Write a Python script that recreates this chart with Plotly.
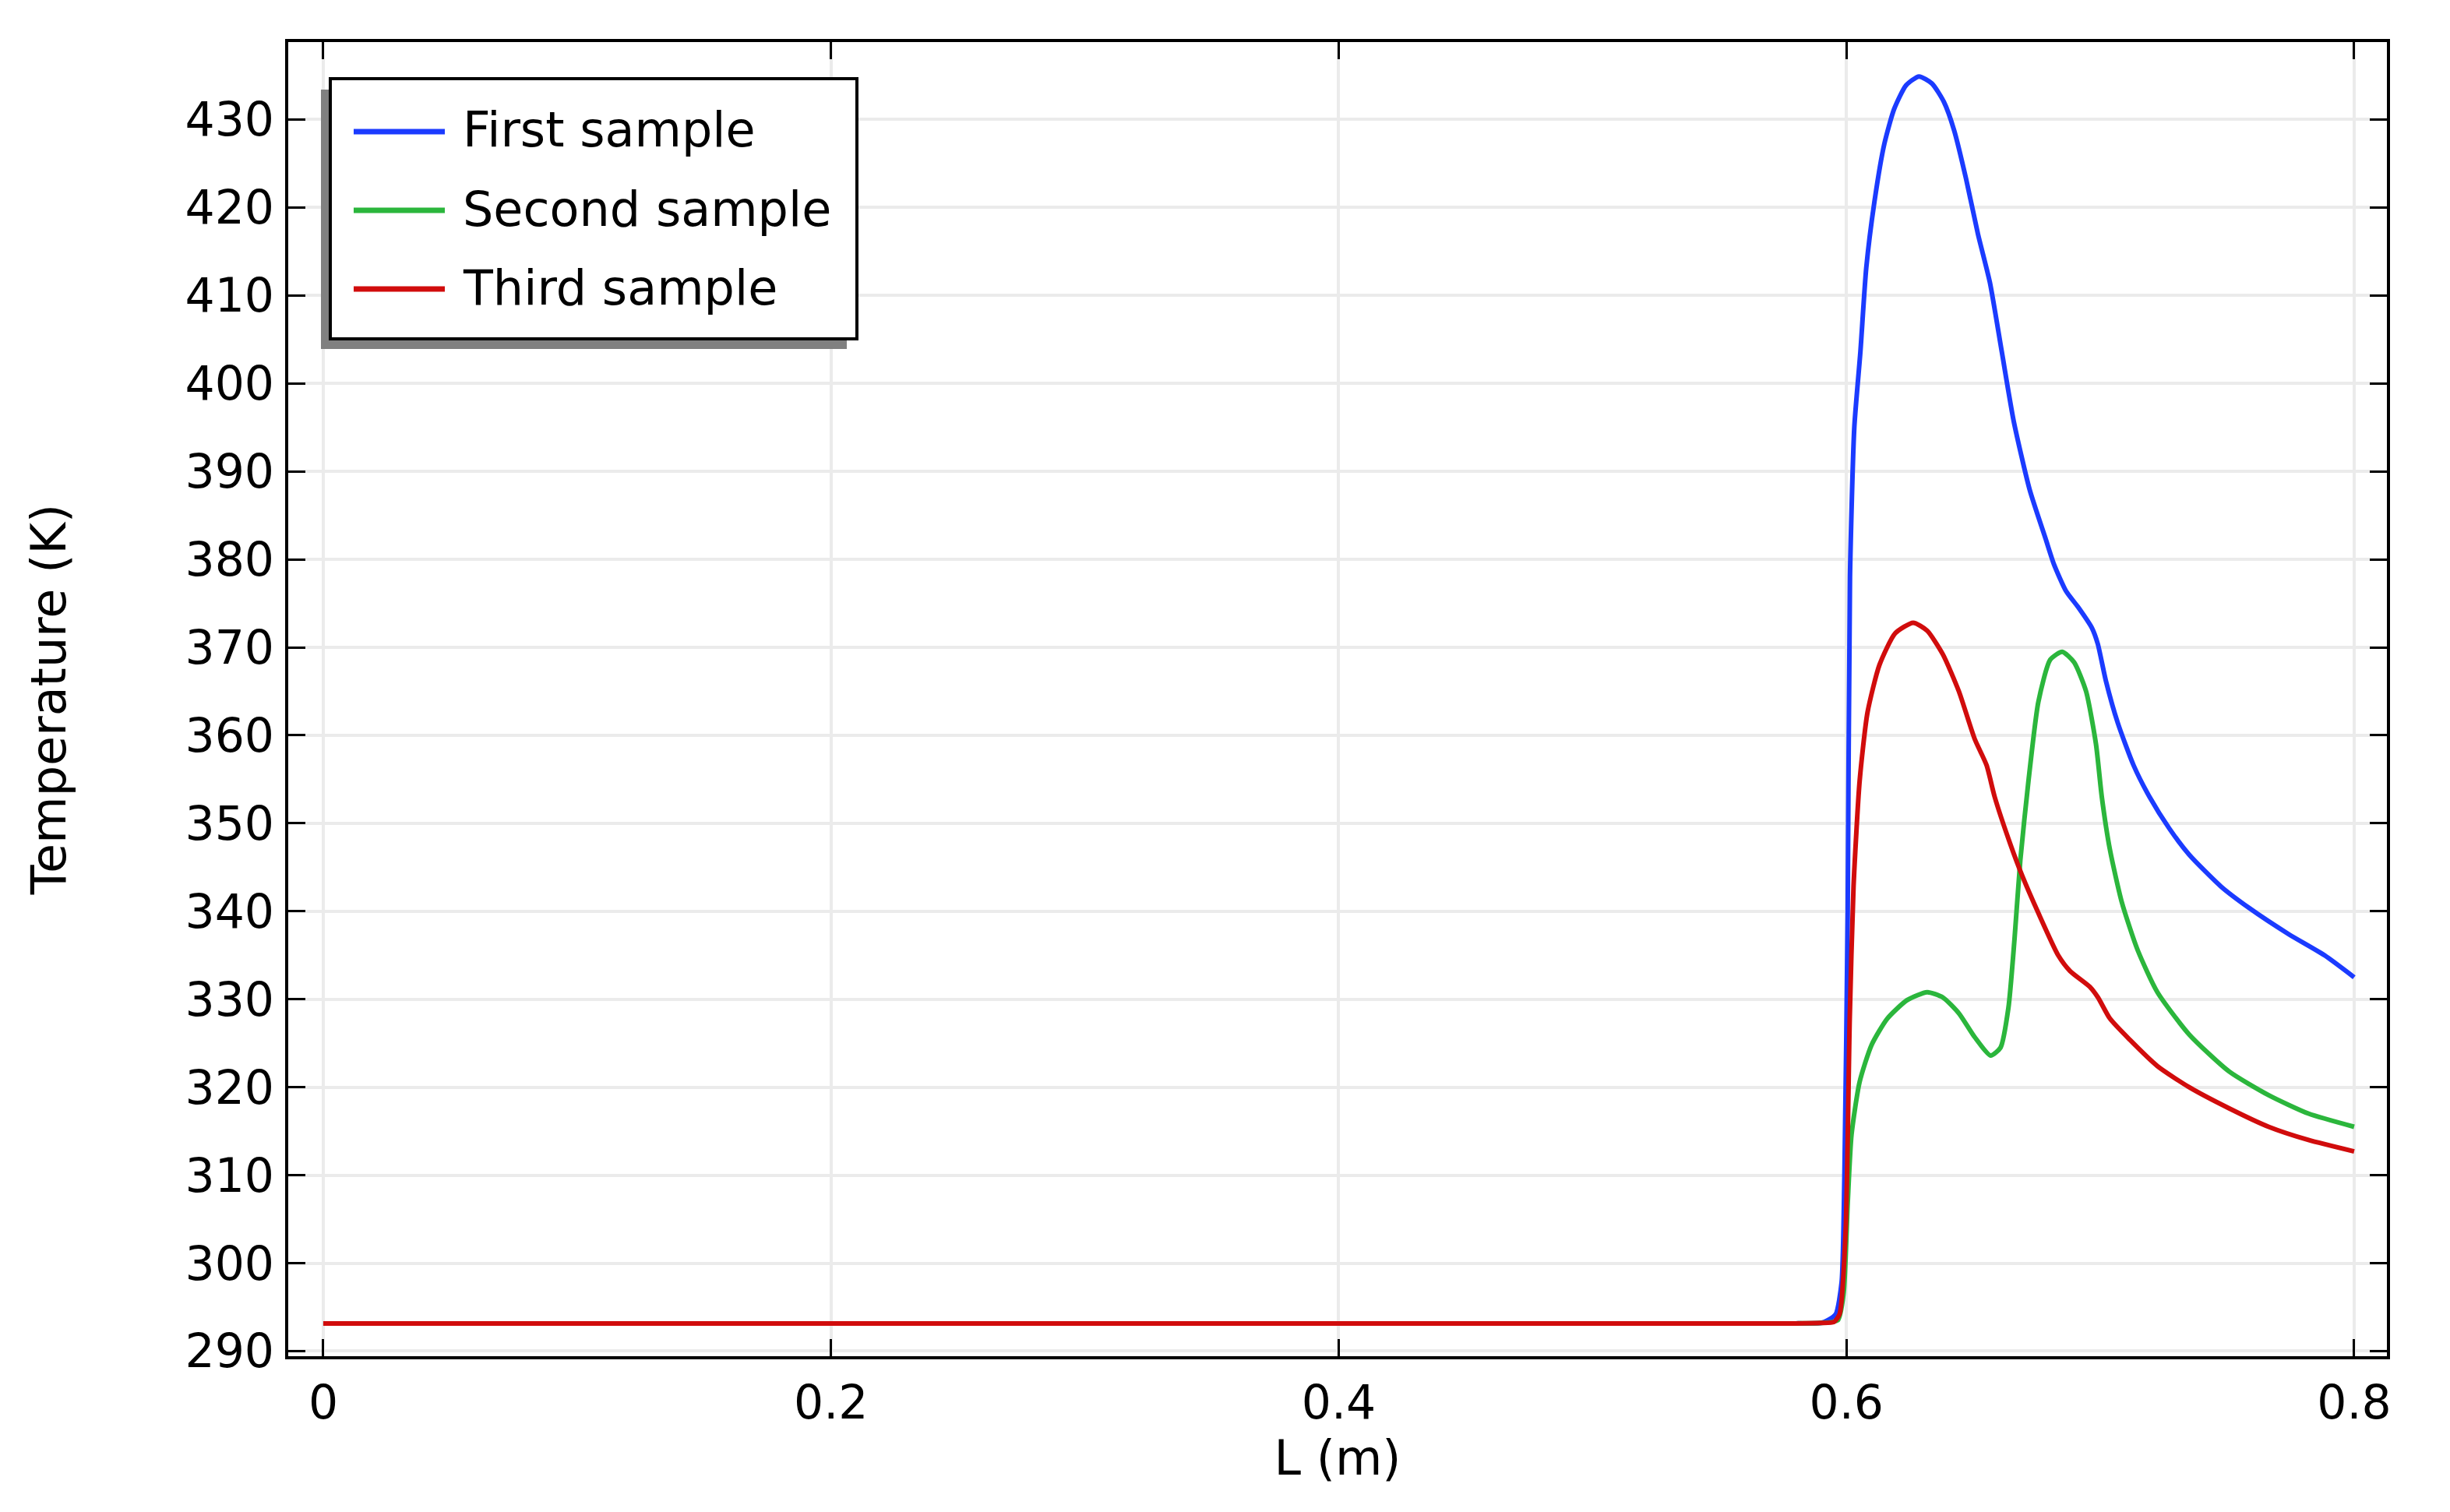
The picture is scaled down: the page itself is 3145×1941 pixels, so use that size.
import plotly.graph_objects as go

# ---- data (L in m, temperature in K) ----
x_first = [0, 0.1, 0.2, 0.3, 0.4, 0.5, 0.58, 0.59, 0.5926, 0.5958, 0.5981, 0.5992, 0.6005,
           0.6014, 0.6031, 0.6055, 0.6078, 0.611, 0.6149, 0.6188, 0.6235, 0.6286,
           0.6337, 0.6384, 0.6424, 0.6471, 0.6518, 0.6565, 0.6612, 0.6659, 0.6722,
           0.6784, 0.6818, 0.6865, 0.6912, 0.6967, 0.699, 0.7022, 0.7069, 0.7131,
           0.7194, 0.7272, 0.7351, 0.7476, 0.7585, 0.7742, 0.7883, 0.8]
t_first = [293.15, 293.15, 293.15, 293.15, 293.15, 293.15, 293.15, 293.2, 293.5, 294.2, 297.8,
           309.8, 339.8, 378, 395, 403.6, 413.1, 420.6, 427.2, 431.2, 433.9, 434.9,
           434.1, 432, 428.8, 423.3, 417, 411.5, 403.6, 395.7, 387.9,
           382.4, 379.4, 376.4, 374.6, 372.2, 370.4, 366.2, 361.4, 356.6,
           353, 349.4, 346.4, 342.8, 340.4, 337.4, 335, 332.5]

x_second = [0, 0.1, 0.2, 0.3, 0.4, 0.5, 0.58, 0.59, 0.5966, 0.5989, 0.6005, 0.602, 0.6052,
            0.6099, 0.6161, 0.6239, 0.6318, 0.638, 0.6443, 0.6505, 0.6568, 0.6607,
            0.6638, 0.6662, 0.6685, 0.6717, 0.6756, 0.6803, 0.685, 0.6897, 0.6944,
            0.6983, 0.7006, 0.7038, 0.7085, 0.7147, 0.7225, 0.735, 0.7507, 0.7663,
            0.782, 0.8]
t_second = [293.15, 293.15, 293.15, 293.15, 293.15, 293.15, 293.15, 293.2, 293.5, 296.6, 306.8,
            314.6, 320.6, 324.8, 327.8, 329.9, 330.8, 330.2, 328.4, 325.7, 323.6, 324.5,
            329, 336.8, 345.8, 354.8, 363.8, 368.6, 369.5, 368.3, 365,
            359, 353, 347, 341, 335.6, 330.8, 326, 321.8, 319.1,
            317, 315.5]

x_third = [0, 0.1, 0.2, 0.3, 0.4, 0.5, 0.58, 0.59, 0.595, 0.5973, 0.5997, 0.6013, 0.6028,
           0.6052, 0.6083, 0.613, 0.6192, 0.6263, 0.6318, 0.638, 0.6443, 0.6505,
           0.6552, 0.6584, 0.6646, 0.6693, 0.6756, 0.6834, 0.6881, 0.6959, 0.6991,
           0.7038, 0.7116, 0.7225, 0.735, 0.7507, 0.7663, 0.782, 0.8]
t_third = [293.15, 293.15, 293.15, 293.15, 293.15, 293.15, 293.15, 293.2, 293.3, 294.2, 303.8,
           327.8, 342.8, 354.8, 362.6, 368, 371.6, 372.8, 371.9, 369.2, 365, 359.6,
           356.6, 353, 347.6, 344, 339.8, 335, 333.2, 331.4, 330.2,
           327.8, 325.4, 322.4, 320, 317.6, 315.5, 314, 312.7]

names = ["First sample", "Second sample", "Third sample"]
colors = ["#1b3bff", "#2bb63c", "#d10c0c"]
x_ticks = [0, 0.2, 0.4, 0.6, 0.8]
x_labels = ["0", "0.2", "0.4", "0.6", "0.8"]
y_ticks = list(range(290, 431, 10))

# ---- page geometry (pixels); the page body adds an 8 px offset ----
OFF = 8
W, H = 3145 - OFF, 1941 - OFF
ML, MR, MT, MB = 362, 81, 46, 200
FONT = "DejaVu Sans"


def px_x(p):
    return (p - OFF - ML) / (W - ML - MR)


def px_y(p):
    return (H - MB - (p - OFF)) / (H - MT - MB)


fig = go.Figure()
for xs, ts, name, col in zip([x_first, x_second, x_third],
                             [t_first, t_second, t_third], names, colors):
    fig.add_trace(go.Scatter(x=xs, y=ts, mode="lines", name=name,
                             line=dict(color=col, width=6, shape="spline", smoothing=0.6),
                             showlegend=False))

axis_common = dict(
    showline=True, linecolor="black", linewidth=4, mirror="ticks",
    ticks="inside", ticklen=22, tickwidth=3, tickcolor="black",
    showgrid=True, gridcolor="#ebebeb", gridwidth=4, zeroline=False,
    tickfont=dict(family=FONT, size=60, color="black"),
)

fig.update_layout(
    width=W, height=H,
    margin=dict(l=ML, r=MR, t=MT, b=MB),
    paper_bgcolor="white", plot_bgcolor="white",
    font=dict(family=FONT, color="black"),
    xaxis=dict(axis_common, range=[-0.0138, 0.8129], tickvals=x_ticks, ticktext=x_labels,
               ticklabelstandoff=4,
               title=dict(text="L (m)", font=dict(family=FONT, size=62), standoff=8)),
    yaxis=dict(axis_common, range=[289.42, 438.81], tickvals=y_ticks,
               ticklabelstandoff=2,
               title=dict(text="Temperature (K)", font=dict(family=FONT, size=62), standoff=134)),
)

# legend drawn by hand: shadow, framed box, sample lines and labels
shapes = [
    dict(type="rect", xref="paper", yref="paper", layer="above",
         x0=px_x(412), x1=px_x(1087), y0=px_y(448), y1=px_y(115),
         fillcolor="#808080", line=dict(width=0)),
    dict(type="rect", xref="paper", yref="paper", layer="above",
         x0=px_x(424), x1=px_x(1100), y0=px_y(435), y1=px_y(101),
         fillcolor="white", line=dict(color="black", width=4)),
]
annotations = []
for i, (name, col) in enumerate(zip(names, colors)):
    yy = 169 + 101 * i
    shapes.append(dict(type="line", xref="paper", yref="paper", layer="above",
                       x0=px_x(454), x1=px_x(571), y0=px_y(yy), y1=px_y(yy),
                       line=dict(color=col, width=7)))
    annotations.append(dict(xref="paper", yref="paper", x=px_x(592), y=px_y(yy - 2),
                            xanchor="left", yanchor="middle", showarrow=False,
                            text=name, font=dict(family=FONT, size=62, color="black")))

fig.update_layout(shapes=shapes, annotations=annotations)

fig.write_html("out.html")
